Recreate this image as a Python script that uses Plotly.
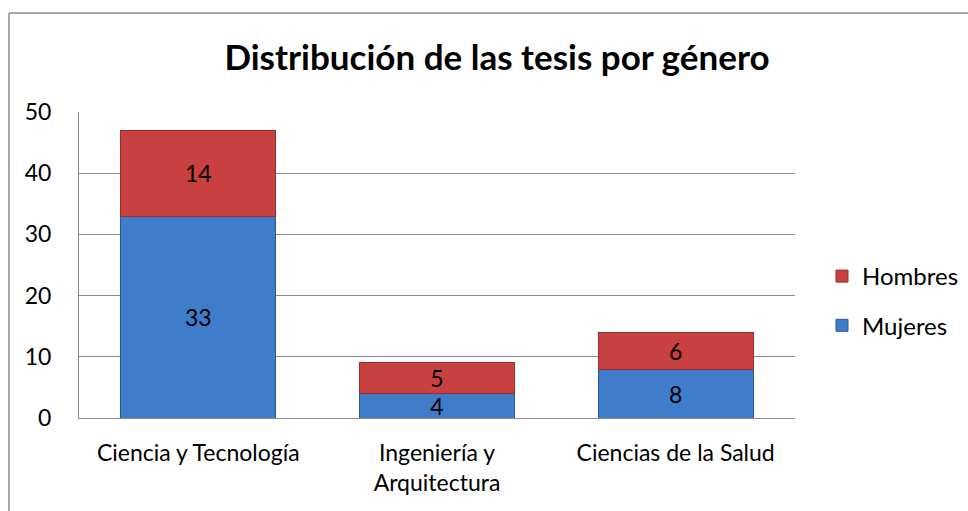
import plotly.graph_objects as go

categories = ["Ciencia y Tecnología", "Ingeniería y<br>Arquitectura", "Ciencias de la Salud"]
mujeres = [33, 4, 8]
hombres = [14, 5, 6]
y_ticks = [0, 10, 20, 30, 40, 50]

FONT = "Lato, 'Open Sans', sans-serif"

fig = go.Figure()
fig.add_trace(go.Bar(
    x=categories, y=mujeres, name="Mujeres", legendgroup="m", legendrank=2,
    marker=dict(color="#3F7DCB", line=dict(color="#2B5A98", width=1)),
    text=mujeres, textposition="inside", insidetextanchor="middle", textangle=0,
    constraintext="none",
    textfont=dict(size=23, color="black", family=FONT),
    width=0.65,
))
fig.add_trace(go.Bar(
    x=categories, y=hombres, name="Hombres", legendgroup="h", legendrank=1,
    marker=dict(color="#C84040", line=dict(color="#952E2D", width=1)),
    text=hombres, textposition="inside", insidetextanchor="middle", textangle=0,
    constraintext="none",
    textfont=dict(size=23, color="black", family=FONT),
    width=0.65,
))

fig.update_layout(
    width=968, height=511,
    barmode="stack",
    paper_bgcolor="white", plot_bgcolor="white",
    margin=dict(l=79, r=173, t=112, b=93, autoexpand=False),
    font=dict(family=FONT, size=23, color="black"),
    title=dict(text="<b>Distribución de las tesis por género</b>",
               x=497/968, xanchor="center", y=1-58/511, yanchor="middle",
               font=dict(size=35, family=FONT, color="black")),
    showlegend=True,
    legend=dict(x=(822-79)/716, y=(418-254)/306,
                xanchor="left", yanchor="top",
                traceorder="grouped", tracegroupgap=15,
                font=dict(size=24, family=FONT, color="black"),
                bgcolor="rgba(0,0,0,0)"),
)
fig.update_yaxes(range=[0, 50], tickvals=y_ticks, showgrid=True, gridcolor="#8C8C8C",
                 gridwidth=1, showline=True, linecolor="#8C8C8C", linewidth=1,
                 zeroline=False, ticks="", ticklabelstandoff=22,
                 tickfont=dict(size=23, family=FONT))
fig.update_xaxes(showline=True, linecolor="#8C8C8C", linewidth=1, ticks="",
                 ticklabelstandoff=14, tickfont=dict(size=23, family=FONT))

# outer chart frame (left and top edges)
fig.add_shape(type="line", xref="paper", yref="paper",
              x0=-70/716, x1=-70/716, y0=1+(112-13)/306, y1=-2,
              line=dict(color="#8C8C8C", width=1.5))
fig.add_shape(type="line", xref="paper", yref="paper",
              x0=-70/716, x1=2, y0=1+(112-13)/306, y1=1+(112-13)/306,
              line=dict(color="#8C8C8C", width=1.5))

fig.write_html("out.html", config={"displayModeBar": False},
               post_script="document.body.style.margin='0';")
